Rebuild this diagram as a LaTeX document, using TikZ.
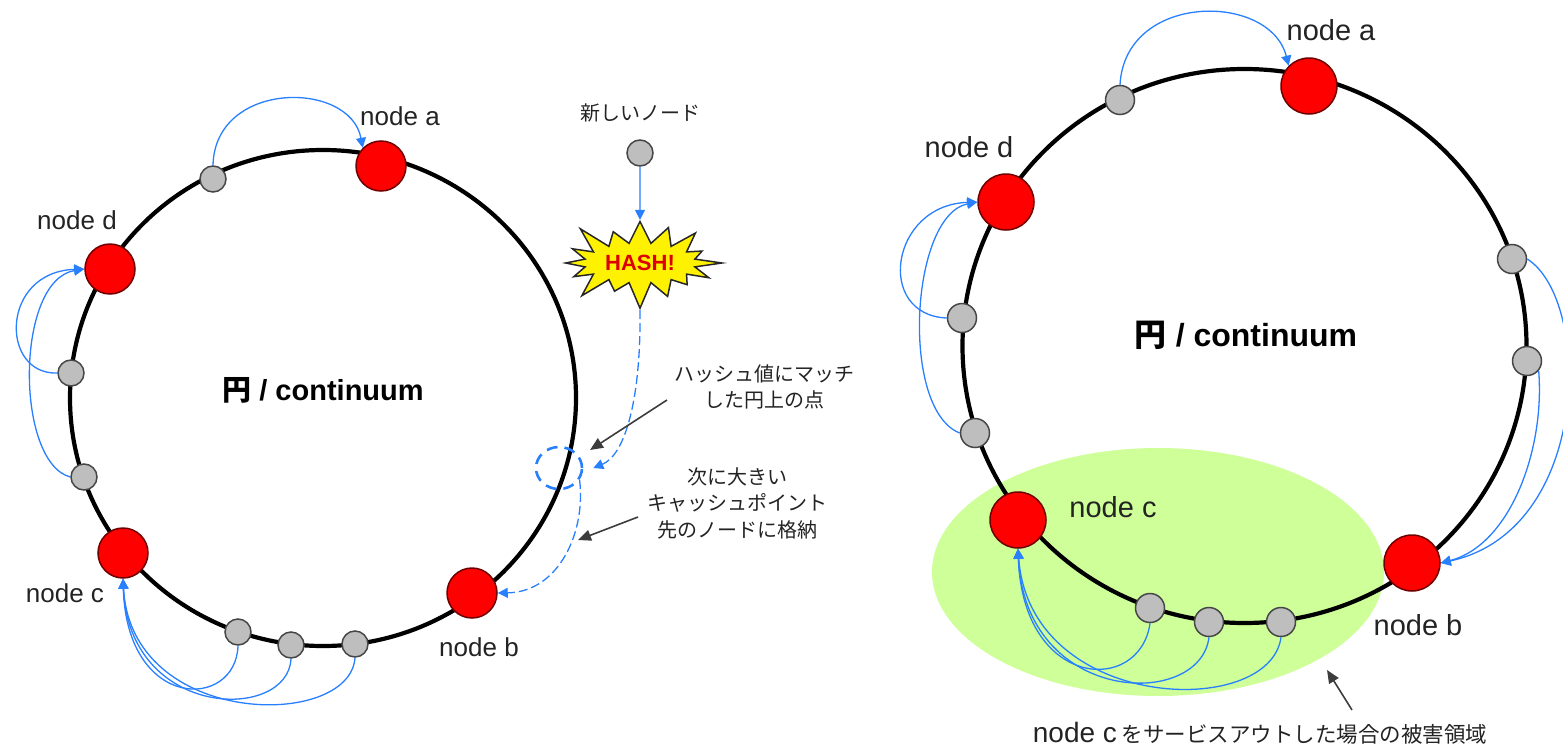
\documentclass[tikz,border=0pt]{standalone}
\usepackage{fontspec}
\setmainfont{Liberation Sans}
\newfontfamily\jp{Noto Sans CJK JP}
\usetikzlibrary{shapes.geometric,shapes.symbols,arrows.meta}

\definecolor{flowblue}{RGB}{40,128,255}
\definecolor{notegray}{RGB}{60,60,60}
\definecolor{zonegreen}{RGB}{206,255,153}
\definecolor{hashred}{RGB}{220,0,0}
\definecolor{serverred}{RGB}{255,0,0}
\definecolor{serveredge}{RGB}{110,0,0}
\definecolor{pointgray}{RGB}{190,190,190}
\definecolor{pointedge}{RGB}{70,70,70}
\definecolor{inkgray}{RGB}{35,35,35}

\tikzset{
  ring/.style={line width=4.2pt, black},
  server/.style={circle, fill=serverred, draw=serveredge, line width=1.5pt, minimum size=50pt, inner sep=0pt},
  bigserver/.style={server, minimum size=56pt},
  hpoint/.style={circle, fill=pointgray, draw=pointedge, line width=1.5pt, minimum size=26pt, inner sep=0pt},
  bigpoint/.style={hpoint, minimum size=29pt},
  flow/.style={flowblue, line width=1.3pt, -{Triangle[length=10pt,width=10pt]}},
  hashflow/.style={flow, dash pattern=on 9pt off 4pt},
  note/.style={notegray, line width=1.6pt, -{Triangle[length=13pt,width=11pt]}},
  lbl/.style={text=inkgray, font=\fontsize{26}{30}\selectfont, inner sep=0pt},
  biglbl/.style={text=inkgray, font=\fontsize{29}{33}\selectfont, inner sep=0pt},
  jptext/.style={text=inkgray, font=\jp\fontsize{20}{26.5}\selectfont, align=center, inner sep=0pt},
  title/.style={text=black, font=\bfseries\fontsize{29}{33}\selectfont, inner sep=0pt},
}

\begin{document}
\begin{tikzpicture}[x=1pt,y=-1pt]
\useasboundingbox (0,0) rectangle (1563,747);

%% ---------------- left ring: inserting a new key ----------------
\draw[ring] (323,398) ellipse [x radius=253, y radius=248];

\node[server] (na) at (381,166) {};
\node[server] (nd) at (110,269) {};
\node[server] (nc) at (123,553) {};
\node[server] (nb) at (472,593) {};

\node[hpoint] (pt) at (213,179) {};
\node[hpoint] (pl1) at (71,373) {};
\node[hpoint] (pl2) at (84,477) {};
\node[hpoint] (pb1) at (238,632) {};
\node[hpoint] (pb2) at (291,645) {};
\node[hpoint] (pb3) at (355,644) {};

\node[lbl] at (400,116) {node a};
\node[lbl] at (77,220) {node d};
\node[lbl] at (65,593) {node c};
\node[lbl] at (479,647) {node b};
\node[title] at (323,390) {{\jp 円} / continuum};

% each point hands its keys to the next server clockwise
\draw[flow] (pt.north) .. controls (215,80) and (350,80) .. (na.north west);
\draw[flow] (pl1.west) .. controls (0,375) and (0,272) .. (nd.west);
\draw[flow] (pl2.west) .. controls (15,462) and (15,280) .. (nd.west);
\draw[flow] (pb1.south) .. controls (236,710) and (127,712) .. (nc.south);
\draw[flow] (pb2.south) .. controls (288,722) and (129,720) .. (nc.south);
\draw[flow] (pb3.south) .. controls (350,730) and (131,728) .. (nc.south);

% new key and its hash
\node[jptext] at (640,113) {新しいノード};
\node[hpoint] (nk) at (640,153) {};
\node[starburst, fill=yellow, draw=black!85, line width=1.5pt,
      starburst points=16, starburst point height=30pt,
      minimum width=172pt, minimum height=100pt, inner sep=0pt,
      font=\bfseries\fontsize{22}{24}\selectfont, text=hashred] (hash) at (640,263) {HASH!};
\draw[flow] (nk.south) -- (hash.north);

% matched point on the ring
\node[draw=flowblue, line width=2.6pt, dash pattern=on 11pt off 7pt,
      ellipse, minimum width=46pt, minimum height=42pt, inner sep=0pt] (hp) at (559,468) {};
\draw[hashflow] (hash.south) .. controls (641,400) and (625,455) .. ([xshift=10pt]hp.east);
\draw[hashflow] (hp.-30) .. controls (586,530) and (560,592) .. (nb.east);

% annotations
\node[jptext] (t1) at (764,387) {ハッシュ値にマッチ\\した円上の点};
\node[jptext] (t2) at (737,503) {次に大きい\\キャッシュポイント\\先のノードに格納};
\coordinate (t1tail) at (667,400);
\coordinate (t1tip) at (590,450);
\coordinate (t2tail) at (638,517);
\coordinate (t2tip) at (578,540);
\draw[note] (t1tail) -- (t1tip);
\draw[note] (t2tail) -- (t2tip);

%% ---------------- right ring: node c taken out of service ----------------
\fill[zonegreen] (1158,572) ellipse [x radius=226, y radius=124];

\draw[ring] (1244.5,346) ellipse [x radius=282, y radius=277];

\node[bigserver] (ra) at (1309,86) {};
\node[bigserver] (rd) at (1006,202) {};
\node[bigserver] (rc) at (1018,520) {};
\node[bigserver] (rb) at (1412,563) {};

\node[bigpoint] (rt) at (1120,100) {};
\node[bigpoint] (rl1) at (962,318) {};
\node[bigpoint] (rl2) at (975,433) {};
\node[bigpoint] (rr1) at (1512,259) {};
\node[bigpoint] (rr2) at (1527,361) {};
\node[bigpoint] (rb1) at (1150,608) {};
\node[bigpoint] (rb2) at (1209,622) {};
\node[bigpoint] (rb3) at (1281,622) {};

\node[biglbl] at (1331,30) {node a};
\node[biglbl] at (969,147) {node d};
\node[biglbl] at (1113,507) {node c};
\node[biglbl] at (1418,625) {node b};
\node[title, font=\bfseries\fontsize{32}{36}\selectfont] at (1246,335) {{\jp 円} / continuum};

\draw[flow] (rt.north) .. controls (1125,-8) and (1270,-8) .. (ra.north west);
\draw[flow] (rl1.west) .. controls (875,315) and (890,205) .. (rd.west);
\draw[flow] (rl2.west) .. controls (900,410) and (910,215) .. (rd.west);
\draw[flow] (rr1.east) .. controls (1592,300) and (1592,530) .. (rb.east);
\draw[flow] (rr2.-40) .. controls (1545,450) and (1510,545) .. (rb.east);
\draw[flow] (rb1.south) .. controls (1140,695) and (1023,690) .. (rc.south);
\draw[flow] (rb2.south) .. controls (1200,710) and (1025,705) .. (rc.south);
\draw[flow] (rb3.south) .. controls (1270,720) and (1030,712) .. (rc.south);

\node[text=inkgray, inner sep=0pt] (t3) at (1260,733)
  {\fontsize{28}{30}\selectfont node c\,{\jp\fontsize{21.5}{26}\selectfont をサービスアウトした場合の被害領域}};
\coordinate (t3tail) at (1352,710);
\coordinate (t3tip) at (1327,670);
\draw[note] (t3tail) -- (t3tip);
\end{tikzpicture}
\end{document}
